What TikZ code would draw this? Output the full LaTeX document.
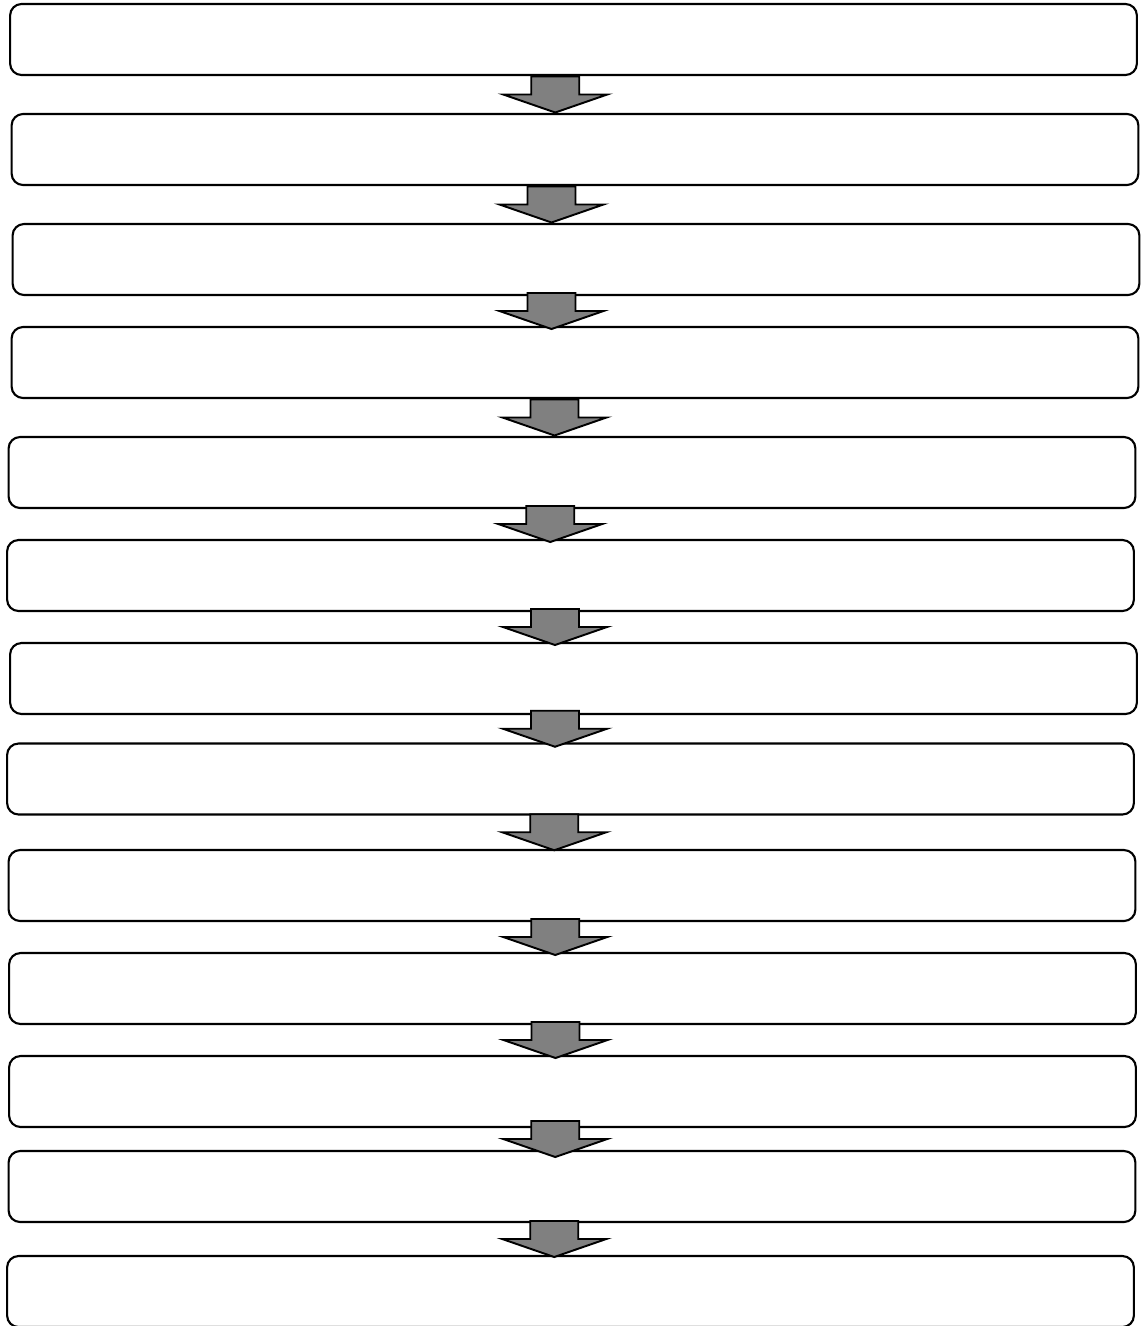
\documentclass[tikz,border=0pt]{standalone}
\usetikzlibrary{calc}

\begin{document}
\begin{tikzpicture}[
  x=0.02cm, y=-0.02cm,
  stagebox/.style={rectangle, draw=black, line width=1.2pt, rounded corners=6.5pt,
                   minimum width=22.54cm, minimum height=1.42cm, inner sep=0pt, fill=white},
  flowarrow/.pic={
    \draw[line width=1.1pt, fill=black!50, line join=miter]
      (-24,-18) -- (24,-18) -- (24,0) -- (52,0) -- (0,18) -- (-52,0) -- (-24,0) -- cycle;
  }
]
\useasboundingbox (0,0) rectangle (1140,1326);

% stages, top to bottom
\node[stagebox] (s1)  at (573.5,  39.5) {};
\node[stagebox] (s2)  at (575,   149.5) {};
\node[stagebox] (s3)  at (576,   259.5) {};
\node[stagebox] (s4)  at (575,   362.5) {};
\node[stagebox] (s5)  at (572,   472.5) {};
\node[stagebox] (s6)  at (570.5, 575.5) {};
\node[stagebox] (s7)  at (573.5, 678.5) {};
\node[stagebox] (s8)  at (570.5, 779)   {};
\node[stagebox] (s9)  at (572,   885.5) {};
\node[stagebox] (s10) at (572.5, 988.5) {};
\node[stagebox] (s11) at (572.5,1091.5) {};
\node[stagebox] (s12) at (572,  1186.5) {};
\node[stagebox] (s13) at (570.5,1291.5) {};

% block arrows between stages
\pic at ($(s1.south)!0.5!(s2.north)+(-19,0)$) {flowarrow};
\pic at ($(s2.south)!0.5!(s3.north)+(-24,0)$) {flowarrow};
\pic at ($(s3.south)!0.5!(s4.north)+(-24,0)$) {flowarrow};
\pic at ($(s4.south)!0.5!(s5.north)+(-19,0)$) {flowarrow};
\pic at ($(s5.south)!0.5!(s6.north)+(-21,0)$) {flowarrow};
\pic at ($(s6.south)!0.5!(s7.north)+(-17,0)$) {flowarrow};
\pic at ($(s7.south)!0.5!(s8.north)+(-17,0)$) {flowarrow};
\pic at ($(s8.south)!0.5!(s9.north)+(-17,0)$) {flowarrow};
\pic at ($(s9.south)!0.5!(s10.north)+(-17,0)$) {flowarrow};
\pic at ($(s10.south)!0.5!(s11.north)+(-17,0)$) {flowarrow};
\pic at ($(s11.south)!0.5!(s12.north)+(-17,0)$) {flowarrow};
\pic at ($(s12.south)!0.5!(s13.north)+(-17,0)$) {flowarrow};

\end{tikzpicture}
\end{document}
